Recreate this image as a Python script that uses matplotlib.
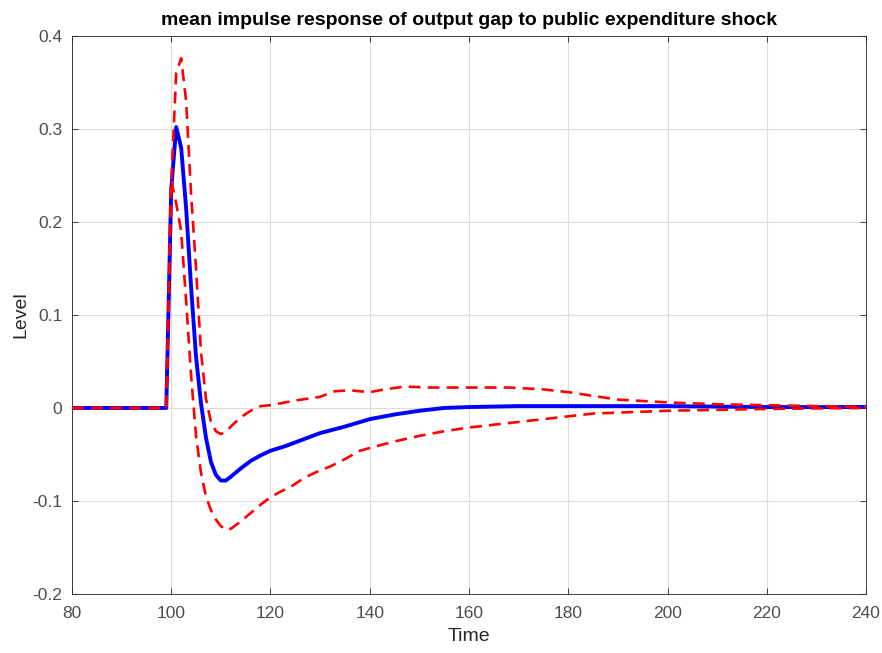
"""
Mean impulse response of output gap to a public expenditure shock, with bands
"""

import matplotlib
matplotlib.use("Agg")
import numpy as np
from matplotlib import pyplot as plt
from matplotlib.ticker import FuncFormatter

# mean response (time, value)
t_mean = [80, 99, 100, 101, 102, 103, 104, 105, 106, 107, 108, 109, 110, 111, 112,
          114, 116, 118, 120, 123, 126, 130, 135, 140, 145, 150, 155, 160, 170,
          180, 200, 220, 240]
v_mean = [0, 0, 0.235, 0.302, 0.28, 0.215, 0.13, 0.055, 0.005, -0.032, -0.058, -0.072,
          -0.078, -0.078, -0.074, -0.065, -0.057, -0.051, -0.046, -0.041, -0.035,
          -0.027, -0.02, -0.012, -0.007, -0.003, 0.0, 0.001, 0.002, 0.002, 0.002,
          0.001, 0.001]

# upper band
t_up = [80, 99, 100, 101, 102, 103, 104, 105, 106, 107, 108, 109, 110, 111, 112,
        114, 116, 118, 120, 125, 130, 133, 136, 140, 143, 147, 152, 160, 168, 175,
        180, 185, 190, 200, 210, 220, 230, 240]
v_up = [0, 0, 0.24, 0.36, 0.376, 0.33, 0.23, 0.15, 0.06, 0.01, -0.015, -0.025,
        -0.028, -0.026, -0.02, -0.01, -0.003, 0.002, 0.003, 0.008, 0.012, 0.018,
        0.019, 0.017, 0.02, 0.023, 0.022, 0.022, 0.022, 0.02, 0.017, 0.013, 0.009,
        0.006, 0.004, 0.003, 0.002, 0.001]

# lower band
t_low = [80, 99, 100, 101, 102, 103, 104, 105, 106, 107, 108, 109, 110, 111, 112,
         114, 116, 118, 120, 122, 124, 126, 128, 130, 132, 135, 138, 140, 145, 150,
         155, 160, 165, 170, 175, 180, 185, 190, 195, 200, 210, 220, 240]
v_low = [0, 0, 0.245, 0.22, 0.19, 0.115, 0.035, -0.03, -0.07, -0.095, -0.11, -0.12,
         -0.127, -0.131, -0.13, -0.122, -0.113, -0.104, -0.096, -0.09, -0.085,
         -0.078, -0.072, -0.067, -0.063, -0.055, -0.046, -0.043, -0.036, -0.03,
         -0.025, -0.021, -0.018, -0.015, -0.012, -0.009, -0.006, -0.005, -0.004,
         -0.003, -0.002, -0.001, 0.0]

plt.rcParams['font.family'] = ['Liberation Sans', 'DejaVu Sans']

fig = plt.figure(figsize=(8.82, 6.53), dpi=100)
ax = fig.add_axes([0.0816, 0.0904, 0.9003, 0.8545])

dash = (0, (4.5, 2.7))
ax.plot(t_mean, v_mean, color='#0000ff', lw=2.8, zorder=3)
ax.plot(t_up, v_up, color='#ff0000', lw=1.9, ls=dash, zorder=4)
ax.plot(t_low, v_low, color='#ff0000', lw=1.9, ls=dash, zorder=4)

ax.set_xlim(80, 240)
ax.set_ylim(-0.2, 0.4)
ax.set_xticks(np.arange(80, 241, 20))
ax.set_yticks(np.arange(-0.2, 0.41, 0.1))
ax.yaxis.set_major_formatter(FuncFormatter(lambda v, p: '0' if abs(v) < 1e-9 else f'{v:.1f}'))

ax.grid(True, color='#dcdcdc', lw=0.8)
ax.set_axisbelow(True)
for s in ax.spines.values():
    s.set_color('#262626')
    s.set_linewidth(0.6)
ax.tick_params(direction='in', length=4, width=0.6, colors='#262626', labelsize=12.5,
               top=True, right=True)
ax.tick_params(axis='x', pad=9)
ax.tick_params(axis='y', pad=7)
for lab in ax.get_xticklabels() + ax.get_yticklabels():
    lab.set_color('#4d4d4d')

ax.set_xlabel('Time', fontsize=14, color='#262626', labelpad=5)
ax.set_ylabel('Level', fontsize=14, color='#262626', labelpad=2)
ax.set_title('mean impulse response of output gap to public expenditure shock',
             fontsize=14, fontweight='bold', pad=8)

fig.savefig('out.png', dpi=100)
